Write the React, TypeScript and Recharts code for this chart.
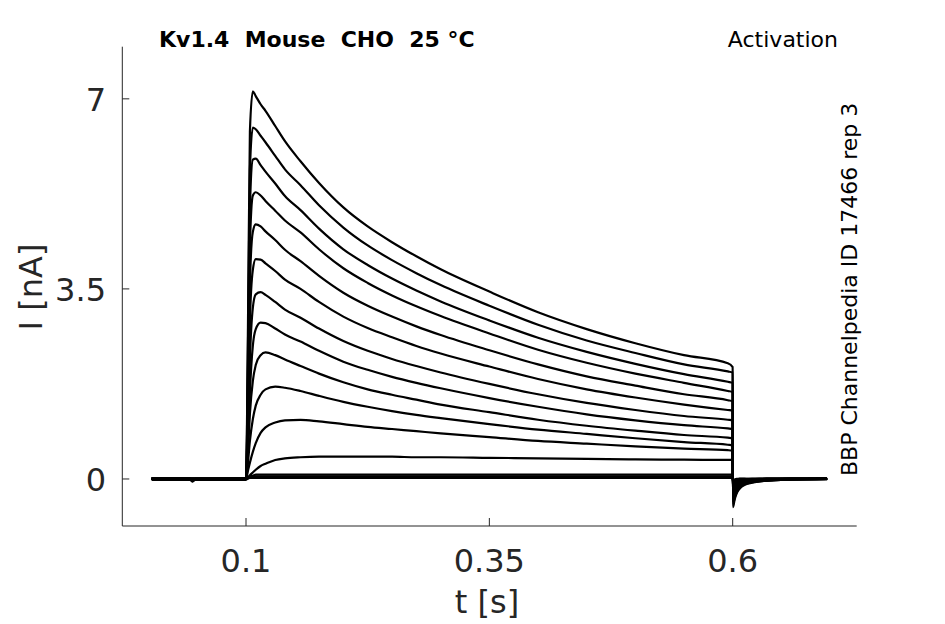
import { LineChart, Line, XAxis, YAxis } from 'recharts'

// time samples [s]
const TIME = [
  0.003, 0.042, 0.045, 0.048, 0.1,
  0.102, 0.104, 0.107, 0.11, 0.115, 0.12, 0.13, 0.14,
  0.156, 0.175, 0.2, 0.225, 0.25, 0.275, 0.3, 0.35, 0.4, 0.45, 0.5, 0.55,
  0.595, 0.6,
  0.6002, 0.602, 0.604, 0.607, 0.612, 0.62, 0.635, 0.66, 0.697,
]

// current traces [nA], largest step first
const SWEEP_1 = [0, 0, 0, 0, 0, 2.8, 6.4, 7.14, 7.05, 6.9, 6.78, 6.5, 6.22, 5.85, 5.45, 5.0, 4.65, 4.36, 4.1, 3.86, 3.45, 3.07, 2.76, 2.5, 2.28, 2.13, 2.06, -0.52, -0.38, -0.27, -0.18, -0.11, -0.07, -0.03, -0.01, 0]
const SWEEP_2 = [0, 0, 0, 0, 0, 2.4, 5.7, 6.47, 6.44, 6.32, 6.2, 5.95, 5.7, 5.41, 5.04, 4.63, 4.3, 4.03, 3.79, 3.57, 3.19, 2.84, 2.55, 2.32, 2.11, 1.98, 1.96, -0.48, -0.35, -0.25, -0.17, -0.1, -0.06, -0.03, -0.01, 0]
const SWEEP_3 = [0, 0, 0, 0, 0, 2.0, 5.0, 5.88, 5.9, 5.78, 5.66, 5.44, 5.21, 4.95, 4.61, 4.23, 3.94, 3.69, 3.47, 3.27, 2.92, 2.6, 2.34, 2.12, 1.93, 1.79, 1.77, -0.44, -0.32, -0.23, -0.15, -0.09, -0.06, -0.03, -0.01, 0]
const SWEEP_4 = [0, 0, 0, 0, 0, 1.7, 4.3, 5.22, 5.28, 5.22, 5.12, 4.94, 4.76, 4.54, 4.23, 3.88, 3.61, 3.38, 3.18, 3.0, 2.68, 2.38, 2.14, 1.94, 1.77, 1.62, 1.6, -0.4, -0.29, -0.21, -0.14, -0.08, -0.05, -0.02, -0.01, 0]
const SWEEP_5 = [0, 0, 0, 0, 0, 1.4, 3.6, 4.55, 4.69, 4.65, 4.56, 4.4, 4.22, 4.01, 3.74, 3.43, 3.19, 2.99, 2.81, 2.65, 2.37, 2.11, 1.89, 1.72, 1.56, 1.45, 1.43, -0.36, -0.26, -0.19, -0.12, -0.07, -0.05, -0.02, -0.01, 0]
const SWEEP_6 = [0, 0, 0, 0, 0, 1.1, 2.9, 3.85, 4.05, 4.04, 3.97, 3.83, 3.67, 3.5, 3.26, 2.99, 2.78, 2.61, 2.45, 2.31, 2.07, 1.84, 1.65, 1.5, 1.37, 1.27, 1.26, -0.32, -0.23, -0.17, -0.11, -0.06, -0.04, -0.02, 0, 0]
const SWEEP_7 = [0, 0, 0, 0, 0, 0.8, 2.2, 3.15, 3.4, 3.44, 3.39, 3.26, 3.12, 2.97, 2.77, 2.54, 2.36, 2.21, 2.08, 1.96, 1.75, 1.56, 1.4, 1.27, 1.16, 1.09, 1.08, -0.28, -0.2, -0.15, -0.1, -0.06, -0.04, -0.02, 0, 0]
const SWEEP_8 = [0, 0, 0, 0, 0, 0.6, 1.6, 2.45, 2.76, 2.88, 2.87, 2.77, 2.66, 2.53, 2.36, 2.16, 2.01, 1.88, 1.77, 1.67, 1.49, 1.33, 1.19, 1.08, 0.99, 0.93, 0.92, -0.24, -0.17, -0.13, -0.08, -0.05, -0.03, -0.01, 0, 0]
const SWEEP_9 = [0, 0, 0, 0, 0, 0.5, 1.2, 1.8, 2.1, 2.28, 2.33, 2.28, 2.2, 2.08, 1.94, 1.78, 1.65, 1.55, 1.46, 1.37, 1.23, 1.09, 0.98, 0.89, 0.81, 0.76, 0.75, -0.2, -0.14, -0.1, -0.07, -0.04, -0.03, -0.01, 0, 0]
const SWEEP_10 = [0, 0, 0, 0, 0, 0.3, 0.7, 1.1, 1.35, 1.55, 1.65, 1.7, 1.68, 1.62, 1.53, 1.42, 1.33, 1.25, 1.18, 1.12, 1.01, 0.91, 0.83, 0.75, 0.68, 0.63, 0.62, -0.16, -0.11, -0.08, -0.05, -0.03, -0.02, -0.01, 0, 0]
const SWEEP_11 = [0, 0, 0, 0, 0, 0.15, 0.3, 0.5, 0.66, 0.85, 0.95, 1.04, 1.08, 1.09, 1.06, 1.01, 0.96, 0.92, 0.88, 0.84, 0.77, 0.7, 0.65, 0.6, 0.56, 0.53, 0.52, -0.12, -0.08, -0.06, -0.04, -0.02, -0.01, 0, 0, 0]
const SWEEP_12 = [0, 0, 0, 0, 0, 0.03, 0.07, 0.12, 0.17, 0.24, 0.28, 0.35, 0.38, 0.4, 0.41, 0.41, 0.41, 0.41, 0.4, 0.4, 0.39, 0.38, 0.37, 0.36, 0.355, 0.35, 0.35, -0.08, -0.05, -0.04, -0.02, -0.01, 0, 0, 0, 0]
// sweeps below threshold (baseline band)
const SWEEP_13 = [0.015, 0.015, -0.05, 0, 0.015, 0.03, 0.05, 0.06, 0.08, 0.08, 0.08, 0.08, 0.08, 0.08, 0.08, 0.08, 0.08, 0.08, 0.08, 0.08, 0.08, 0.08, 0.08, 0.08, 0.08, 0.08, 0.08, -0.04, -0.02, -0.01, 0, 0, 0, 0.01, 0.01, 0.01]
const SWEEP_14 = [-0.015, -0.015, -0.04, -0.015, -0.015, 0.01, 0.03, 0.04, 0.05, 0.05, 0.05, 0.05, 0.05, 0.05, 0.05, 0.05, 0.05, 0.05, 0.05, 0.05, 0.05, 0.05, 0.05, 0.05, 0.05, 0.05, 0.05, -0.03, -0.02, -0.01, 0, 0, -0.01, -0.01, -0.01, -0.01]
const SWEEP_15 = [0, 0, -0.02, 0, 0, 0.01, 0.02, 0.02, 0.02, 0.02, 0.02, 0.02, 0.02, 0.02, 0.02, 0.02, 0.02, 0.02, 0.02, 0.02, 0.02, 0.02, 0.02, 0.02, 0.02, 0.02, 0.02, -0.02, -0.01, 0, 0, 0, 0, 0, 0, 0]

const SWEEPS = [
  SWEEP_15, SWEEP_14, SWEEP_13, SWEEP_12, SWEEP_11, SWEEP_10, SWEEP_9, SWEEP_8,
  SWEEP_7, SWEEP_6, SWEEP_5, SWEEP_4, SWEEP_3, SWEEP_2, SWEEP_1,
]

const X_TICKS = [0.1, 0.35, 0.6]
const Y_TICKS = [0, 3.5, 7]

const FONT = '"DejaVu Sans", sans-serif'
const INK = '#262626'
const AXIS_X = 122.3
const AXIS_Y = 526

const rows = TIME.map((t, i) => {
  const row: Record<string, number> = { t }
  SWEEPS.forEach((s, k) => {
    row['s' + k] = s[i]
  })
  return row
})

function YTick({ y, payload }: any) {
  return (
    <g>
      <line x1={AXIS_X} x2={AXIS_X + 7} y1={y} y2={y} stroke={INK} strokeWidth={1} />
      <text x={106} y={y + 12} textAnchor="end" fontSize={32} fontFamily={FONT} fill={INK}>
        {String(payload.value)}
      </text>
    </g>
  )
}

function XTick({ x, payload }: any) {
  return (
    <g>
      <line x1={x} x2={x} y1={AXIS_Y} y2={AXIS_Y - 8} stroke={INK} strokeWidth={1} />
      <text x={x} y={572} textAnchor="middle" fontSize={32} fontFamily={FONT} fill={INK}>
        {String(payload.value)}
      </text>
    </g>
  )
}

export default function App() {
  return (
    <div style={{ position: 'absolute', left: 0, top: 0, width: 945, height: 624, background: '#fff' }}>
      <LineChart
        width={945}
        height={624}
        data={rows}
        margin={{ top: 46.7, right: 88.3, left: AXIS_X - 60, bottom: 624 - AXIS_Y - 40 }}
      >
        <XAxis
          dataKey="t"
          type="number"
          domain={[-0.0271, 0.7274]}
          ticks={X_TICKS}
          allowDataOverflow
          height={40}
          tickLine={false}
          axisLine={{ stroke: INK, strokeWidth: 1 }}
          tick={<XTick />}
        />
        <YAxis
          type="number"
          domain={[-0.866, 7.96]}
          ticks={Y_TICKS}
          allowDataOverflow
          width={60}
          tickLine={false}
          axisLine={{ stroke: INK, strokeWidth: 1 }}
          tick={<YTick />}
        />
        {SWEEPS.map((_, k) => (
          <Line
            key={k}
            dataKey={'s' + k}
            type="monotone"
            stroke="#000"
            strokeWidth={2.2}
            dot={false}
            isAnimationActive={false}
          />
        ))}
      </LineChart>
      <svg
        width={945}
        height={624}
        style={{ position: 'absolute', left: 0, top: 0, pointerEvents: 'none' }}
        fontFamily={FONT}
      >
        <text x={159} y={47} fontSize={22} fontWeight="bold" fill="#000" style={{ whiteSpace: 'pre' }}>
          {'Kv1.4  Mouse  CHO  25 °C'}
        </text>
        <text x={838} y={47} fontSize={22} textAnchor="end" fill="#000">
          Activation
        </text>
        <text transform="translate(857,476) rotate(-90)" fontSize={22} fill="#000">
          BBP Channelpedia ID 17466 rep 3
        </text>
        <text transform="translate(42,287) rotate(-90)" fontSize={32} textAnchor="middle" fill={INK}>
          I [nA]
        </text>
        <text x={487} y={613} fontSize={32} textAnchor="middle" fill={INK}>
          t [s]
        </text>
      </svg>
    </div>
  )
}
